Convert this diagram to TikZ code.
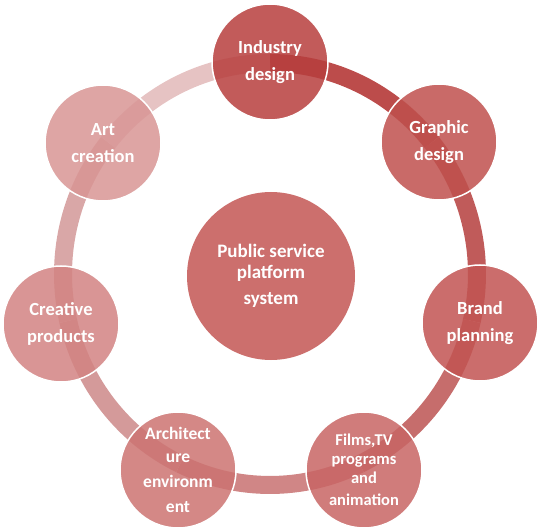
\documentclass[tikz,border=0pt]{standalone}
\usepackage{fontspec}
\setmainfont{Carlito}
\begin{document}
\begin{tikzpicture}[x=1pt,y=1pt]
\useasboundingbox (0,0) rectangle (541,531);
\definecolor{rIG}{RGB}{188,76,75}
\definecolor{rGB}{RGB}{192,91,90}
\definecolor{rBF}{RGB}{198,109,108}
\definecolor{rFA}{RGB}{208,134,134}
\definecolor{rAC}{RGB}{212,154,154}
\definecolor{rCA}{RGB}{217,167,167}
\definecolor{rAI}{RGB}{230,195,195}
\definecolor{cInd}{RGB}{183,62,61}
\definecolor{cGra}{RGB}{191,80,77}
\definecolor{cBra}{RGB}{194,84,82}
\definecolor{cFil}{RGB}{200,101,100}
\definecolor{cArc}{RGB}{204,115,113}
\definecolor{cCre}{RGB}{210,131,130}
\definecolor{cArt}{RGB}{216,149,148}
\definecolor{cCen}{RGB}{204,111,109}
\tikzset{
  ringseg/.style={line width=18pt},
  sat/.style={circle, minimum size=116pt, inner sep=0pt, draw=white, line width=1.5pt,
    fill opacity=0.85, text opacity=1, text=white, align=center,
    font=\fontsize{18.5}{27}\selectfont\bfseries},
}
\coordinate (rc) at (270,257);
\draw[ringseg, rIG] ([shift={(rc)}]90:207 and 211) arc[start angle=90, end angle=38.571, x radius=207, y radius=211];
\draw[ringseg, rGB] ([shift={(rc)}]38.571:207 and 211) arc[start angle=38.571, end angle=-12.857, x radius=207, y radius=211];
\draw[ringseg, rBF] ([shift={(rc)}]-12.857:207 and 211) arc[start angle=-12.857, end angle=-64.286, x radius=207, y radius=211];
\draw[ringseg, rFA] ([shift={(rc)}]-64.286:207 and 211) arc[start angle=-64.286, end angle=-115.714, x radius=207, y radius=211];
\draw[ringseg, rAC] ([shift={(rc)}]-115.714:207 and 211) arc[start angle=-115.714, end angle=-167.143, x radius=207, y radius=211];
\draw[ringseg, rCA] ([shift={(rc)}]-167.143:207 and 211) arc[start angle=-167.143, end angle=-218.571, x radius=207, y radius=211];
\draw[ringseg, rAI] ([shift={(rc)}]141.429:207 and 211) arc[start angle=141.429, end angle=90, x radius=207, y radius=211];

\node[sat, fill=cInd] (ind) at (270,469) {Industry\\design};
\node[sat, fill=cGra] (gra) at (439,389) {Graphic\\design};
\node[sat, fill=cBra] (bra) at (480,208) {Brand\\planning};
\node[sat, fill=cFil, font=\fontsize{16.5}{19}\selectfont\bfseries] (fil) at (364,61) {Films,TV\\programs\\and\\[3pt]animation};
\node[sat, fill=cArc, font=\fontsize{17.5}{20}\selectfont\bfseries] (arc) at (178,61) {Architect\\[3pt]ure\\[5pt]environm\\[5pt]ent};
\node[sat, fill=cCre] (cre) at (61,207) {Creative\\products};
\node[sat, fill=cArt] (art) at (103,388) {Art\\creation};
\node[circle, minimum size=168pt, inner sep=0pt, fill=cCen, text=white, align=center,
  font=\fontsize{19}{21}\selectfont\bfseries] (cen) at (271,255) {Public service\\platform\\[5pt]system};
\end{tikzpicture}
\end{document}
